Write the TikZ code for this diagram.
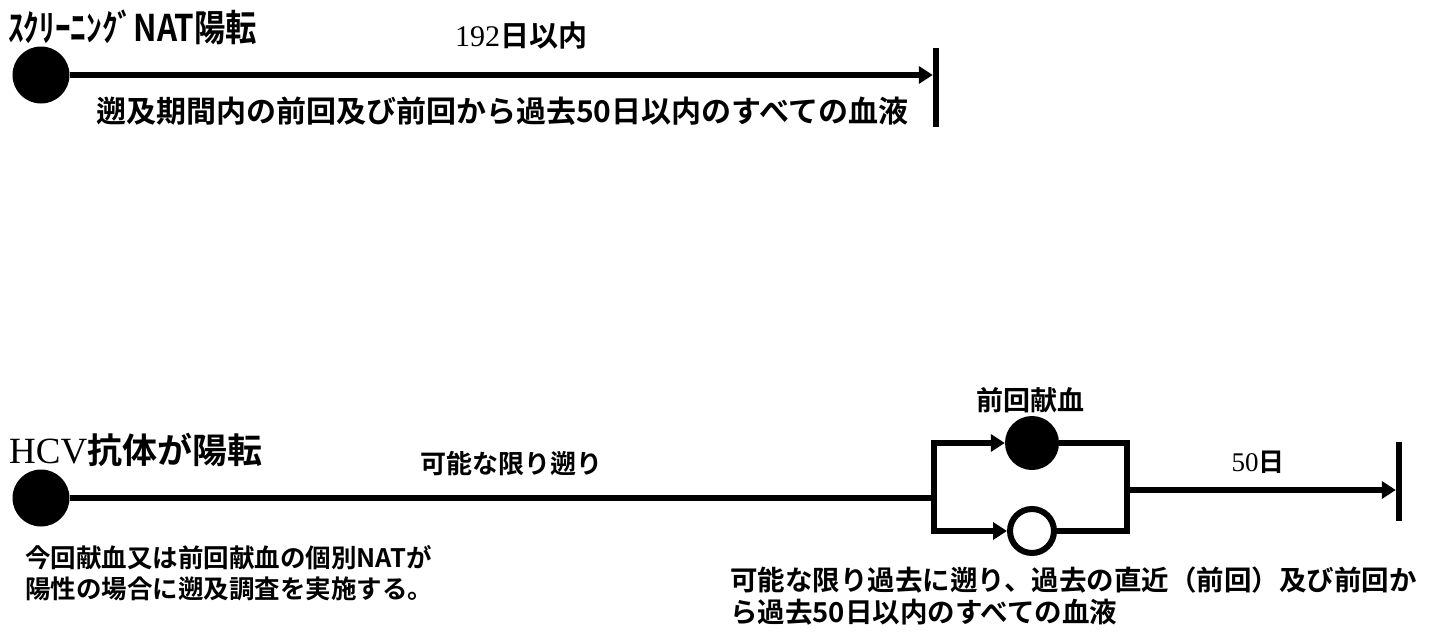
\documentclass[tikz,border=0pt]{standalone}
\usepackage{fontspec}
\newfontfamily\jp{Noto Sans CJK JP}[BoldFont={* Bold}]
\newfontfamily\ser{Liberation Serif}
\usetikzlibrary{arrows.meta}
\newcommand{\fs}[2]{\fontsize{#1}{#2}\selectfont}
\begin{document}
\begin{tikzpicture}[x=1pt,y=-1pt,
  dot/.style={circle, fill=black, inner sep=0pt, minimum size=54pt},
  odot/.style={circle, draw=black, line width=6pt, fill=white, inner sep=0pt, minimum size=44pt},
  endbar/.style={fill=black, inner sep=0pt, minimum width=6pt, minimum height=79pt},
  conn/.style={line width=6pt, line join=miter},
  arr/.style={conn, -{Triangle[length=14pt,width=17pt]}},
  lbl/.style={inner sep=0pt, font=\jp\bfseries}]
\useasboundingbox (0,0) rectangle (1434,637);
% top timeline
\node[dot, minimum size=57pt] (t0) at (41,75) {};
\node[endbar] (t1) at (936,87) {};
\draw[arr] (t0) -- (t0 -| t1.west);
\node[lbl, anchor=west, font=\jp\bfseries\fs{32}{36}] (title) at (8,27) {\scalebox{0.98}[1.15]{ｽｸﾘｰﾆﾝｸﾞNAT陽転}};
\node[lbl, font=\jp\bfseries\fs{29}{32}] (d192) at (521,36) {{\ser\mdseries\fs{30}{32}192}日以内};
\node[lbl, anchor=west, font=\jp\bfseries\fs{30}{34}] (tlong) at (96,111) {遡及期間内の前回及び前回から過去50日以内のすべての血液};
% bottom timeline
\node[dot, minimum size=57pt] (b0) at (41,498) {};
\coordinate (jl) at (934,498);
\coordinate (jr) at (1127,490);
\node[dot] (p1) at (1032,443) {};
\node[odot] (p2) at (1032,531) {};
\node[endbar] (b1) at (1399,481) {};
\draw[conn] (b0) -- (jl);
\draw[arr] (jl) |- (p1);
\draw[arr] (jl) |- (p2);
\draw[conn] (p1) -| (jr);
\draw[conn] (p2) -| (jr);
\draw[arr] (jr) -- (jr -| b1.west);
\node[lbl, anchor=west, font=\jp\bfseries\fs{35}{38}] (hcv) at (9,450) {{\ser\mdseries\fs{37}{38}HCV}抗体が陽転};
\node[lbl, anchor=west, font=\jp\bfseries\fs{26}{30}] (back) at (420,464) {可能な限り遡り};
\node[lbl, font=\jp\bfseries\fs{27}{30}] (prev) at (1030,400) {前回献血};
\node[lbl, font=\jp\bfseries\fs{26}{30}] (d50) at (1258,462) {{\ser\mdseries\fs{27}{30}50}日};
\node[lbl, anchor=north west, align=left, font=\jp\bfseries\fs{25.5}{31}] (note1) at (25,545) {今回献血又は前回献血の個別NATが\\陽性の場合に遡及調査を実施する。};
\node[lbl, anchor=north west, align=left, font=\jp\bfseries\fs{27.5}{32}] (note2) at (730,567) {可能な限り過去に遡り、過去の直近（前回）及び前回か\\ら過去50日以内のすべての血液};
\end{tikzpicture}
\end{document}
